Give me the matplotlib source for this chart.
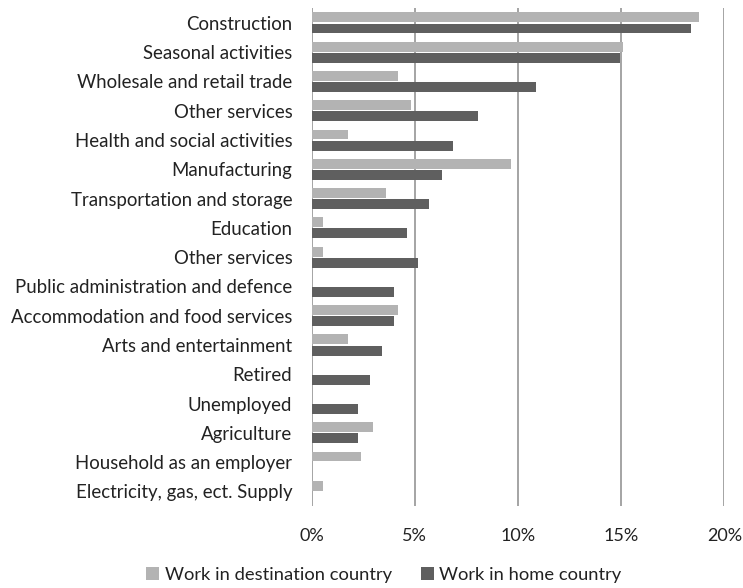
import numpy as np
import matplotlib.pyplot as plt

plt.rcParams['font.family'] = ['Lato', 'DejaVu Sans']

# Data (percent)
categories = ['Construction', 'Seasonal activities', 'Wholesale and retail trade',
              'Other services', 'Health and social activities', 'Manufacturing',
              'Transportation and storage', 'Education', 'Other services',
              'Public administration and defence', 'Accommodation and food services',
              'Arts and entertainment', 'Retired', 'Unemployed', 'Agriculture',
              'Household as an employer', 'Electricity, gas, ect. Supply']
destination = [18.75, 15.1, 4.2, 4.8, 1.75, 9.65, 3.6, 0.55, 0.55,
               0.0, 4.2, 1.75, 0.0, 0.0, 2.95, 2.4, 0.55]
home = [18.4, 14.95, 10.85, 8.05, 6.85, 6.3, 5.7, 4.6, 5.15,
        4.0, 4.0, 3.4, 2.85, 2.25, 2.25, 0.0, 0.0]
xticks = [0, 5, 10, 15, 20]

fig = plt.figure(figsize=(7.43, 5.88), dpi=100)
ax = fig.add_axes([311.7 / 743, 1 - 506 / 588, (724.3 - 311.7) / 743, (506 - 8.3) / 588])

y = np.arange(len(categories))
h = 0.34
ax.barh(y - 0.19, destination, height=h, color='#b3b3b3', label='Work in destination country', zorder=3)
ax.barh(y + 0.19, home, height=h, color='#5f5f5f', label='Work in home country', zorder=3)

ax.set_ylim(len(categories) - 0.5, -0.5)
ax.set_xlim(0, 20)
ax.set_yticks(y)
ax.set_yticklabels(categories, fontsize=13.4, color='#222222')
ax.set_xticks(xticks)
ax.set_xticklabels([f'{t}%' for t in xticks], fontsize=13, color='#222222')
ax.tick_params(length=0)
ax.tick_params(axis='y', pad=14)
ax.tick_params(axis='x', pad=16)
ax.xaxis.grid(True, color='#8c8c8c', linewidth=1.1, zorder=0)
for s in ax.spines.values():
    s.set_visible(False)

ax.legend(loc='center', bbox_to_anchor=(384 / 743, 1 - 575 / 588), bbox_transform=fig.transFigure,
          ncol=2, frameon=False, fontsize=13.2, handlelength=0.7, handleheight=0.7,
          handletextpad=0.3, columnspacing=1.6, labelcolor='#222222')

fig.savefig('out.png', dpi=100)
